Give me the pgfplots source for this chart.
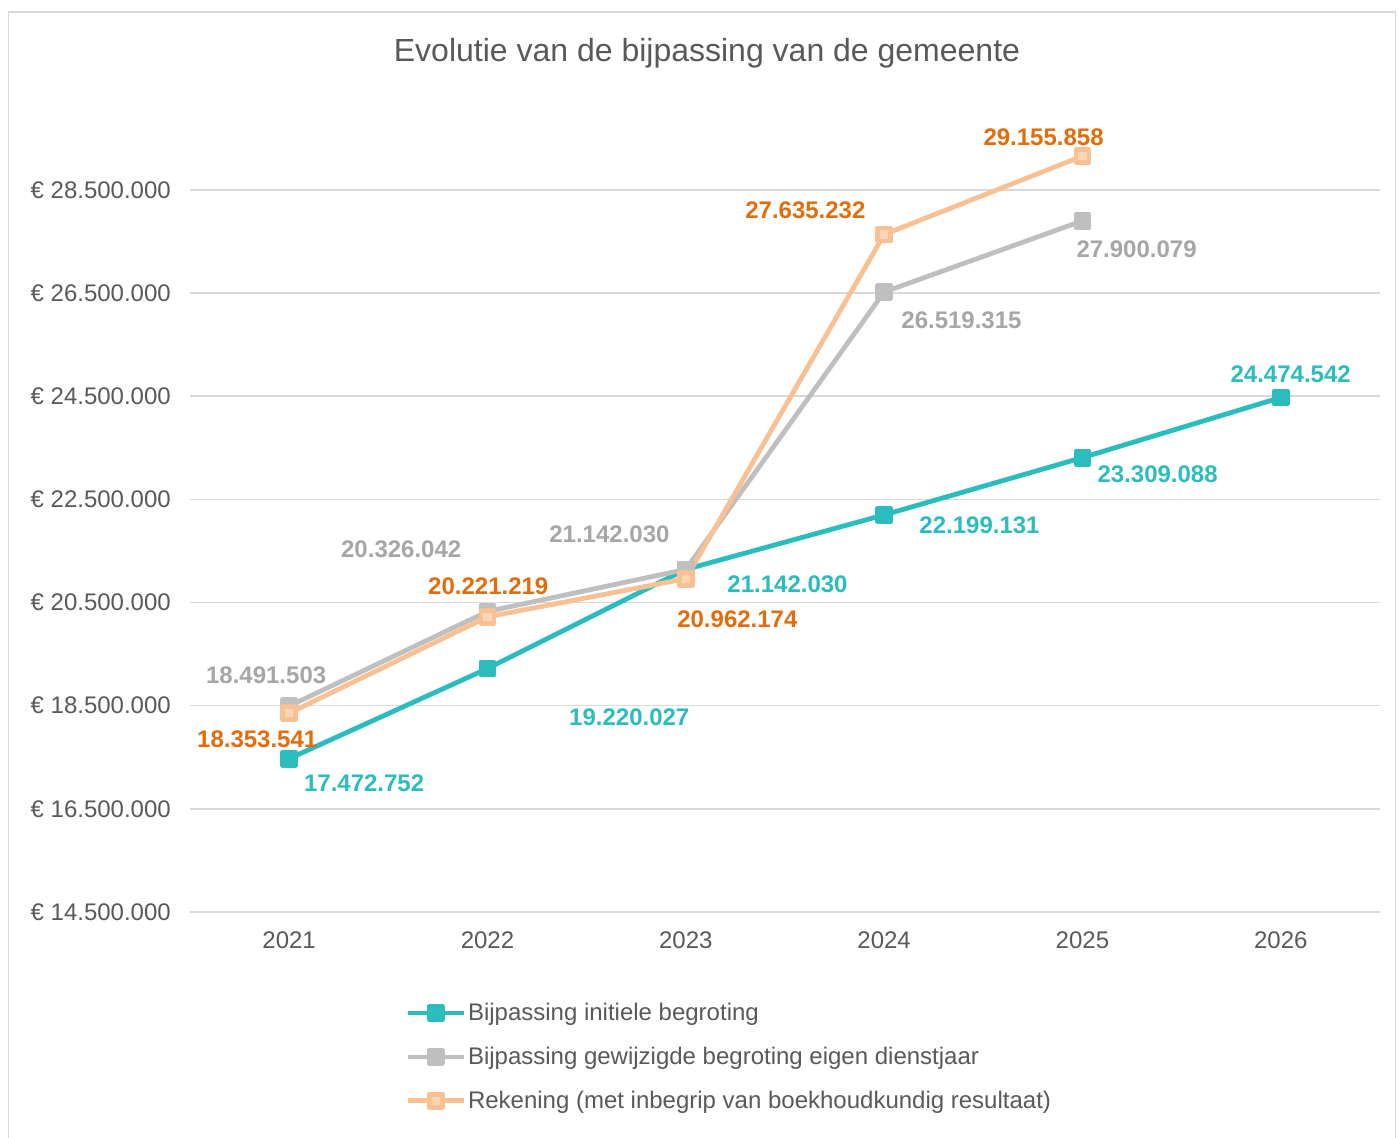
\documentclass[border=0pt]{standalone}
\usepackage{fontspec}
\setmainfont{Liberation Sans}
\usepackage{pgfplots}
\pgfplotsset{compat=1.18}
\definecolor{teal1}{HTML}{2BBDBD}
\definecolor{gray1}{HTML}{BFBFBF}
\definecolor{grayl}{HTML}{A6A6A6}
\definecolor{orl}{HTML}{F9C193}
\definecolor{orf}{HTML}{FCD5B5}
\definecolor{ord}{HTML}{E46C0A}
\definecolor{txt}{HTML}{595959}
\definecolor{gridc}{HTML}{D9D9D9}
\newcommand\lbl{\fontsize{24}{28}\selectfont}
\begin{document}
\begin{tikzpicture}
\useasboundingbox (0,0) rectangle (1398pt,1138pt);
\fill[white] (0,0) rectangle (1398pt,1138pt);
\draw[gridc, line width=1.5pt] (8.5pt,-10pt) rectangle (1395.5pt,1126pt);
\node[text=txt, font=\fontsize{32}{38}\selectfont] at (707pt,1085pt) {Evolutie van de bijpassing van de gemeente};
\begin{axis}[
  at={(190pt,226pt)}, anchor=south west,
  scale only axis, width=1190pt, height=784pt,
  xmin=-0.5, xmax=5.5, ymin=14500000, ymax=29700000,
  scaled y ticks=false,
  xtick={0,1,2,3,4,5},
  xticklabels={2021,2022,2023,2024,2025,2026},
  ytick={14500000,16500000,18500000,20500000,22500000,24500000,26500000,28500000},
  yticklabels={€ 14.500.000,€ 16.500.000,€ 18.500.000,€ 20.500.000,€ 22.500.000,€ 24.500.000,€ 26.500.000,€ 28.500.000},
  /pgf/number format/assume math mode=true,
  axis line style={draw=none},
  major tick length=0pt,
  xmajorgrids=false, ymajorgrids=true,
  major grid style={draw=gridc, line width=1.5pt},
  ticklabel style={font=\lbl, text=txt, inner sep=0pt},
  yticklabel style={anchor=east, xshift=-19pt},
  xticklabel style={anchor=north, yshift=-20pt},
  clip=false,
  legend style={at={(0.1807,-0.114)}, anchor=north west, draw=none, fill=none,
    font=\lbl, text=txt, row sep=21pt, inner sep=0pt,
    nodes={inner sep=2pt}, cells={anchor=west}},
  legend image code/.code={\draw[mark repeat=2,mark phase=2,#1] plot coordinates {(0pt,0pt) (28pt,0pt) (56pt,0pt)};},
  every axis plot/.append style={line width=4.8pt, line join=round, mark=square*, mark size=6.5pt, mark options={line width=1pt}},
]
\addplot[teal1, mark options={fill=teal1, draw=teal1}] coordinates {
 (0,17472752) (1,19220027) (2,21142030) (3,22199131) (4,23309088) (5,24474542)};
\addlegendentry{Bijpassing initiele begroting}
\addplot[gray1, mark options={fill=gray1, draw=gray1}] coordinates {
 (0,18491503) (1,20326042) (2,21142030) (3,26519315) (4,27900079)};
\addlegendentry{Bijpassing gewijzigde begroting eigen dienstjaar}
\addplot[orl, mark options={fill=orf, draw=orl}] coordinates {
 (0,18353541) (1,20221219) (2,20962174) (3,27635232) (4,29155858)};
\addlegendentry{Rekening (met inbegrip van boekhoudkundig resultaat)}
% data labels
\begin{scope}[every node/.style={font=\lbl\bfseries, inner sep=0pt}]
\node[text=grayl] at (axis cs:-0.116,19096000) {18.491.503};
\node[text=grayl] at (axis cs:0.565,21539000) {20.326.042};
\node[text=grayl] at (axis cs:1.615,21830000) {21.142.030};
\node[text=grayl] at (axis cs:3.390,25980000) {26.519.315};
\node[text=grayl] at (axis cs:4.273,27356000) {27.900.079};
\node[text=ord] at (axis cs:-0.161,17855000) {18.353.541};
\node[text=ord] at (axis cs:1.004,20821000) {20.221.219};
\node[text=ord] at (axis cs:2.260,20182000) {20.962.174};
\node[text=ord] at (axis cs:2.603,28113000) {27.635.232};
\node[text=ord] at (axis cs:3.804,29528000) {29.155.858};
\node[text=teal1] at (axis cs:0.378,17001000) {17.472.752};
\node[text=teal1] at (axis cs:1.715,18281000) {19.220.027};
\node[text=teal1] at (axis cs:2.513,20860000) {21.142.030};
\node[text=teal1] at (axis cs:3.481,22004000) {22.199.131};
\node[text=teal1] at (axis cs:4.379,22993000) {23.309.088};
\node[text=teal1] at (axis cs:5.050,24932000) {24.474.542};
\end{scope}
\end{axis}
\end{tikzpicture}
\end{document}
